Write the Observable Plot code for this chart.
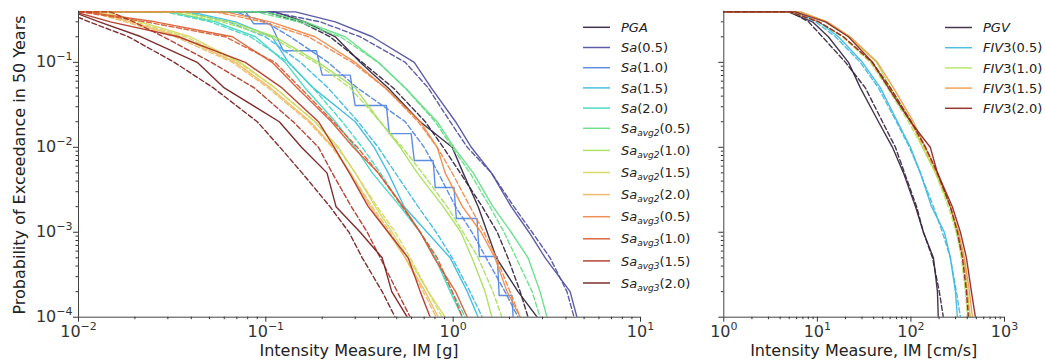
<!DOCTYPE html>
<html><head><meta charset="utf-8">
<script src="https://cdn.jsdelivr.net/npm/d3@7"></script>
<script src="https://cdn.jsdelivr.net/npm/@observablehq/plot@0.6"></script>
<style>
body{margin:0;background:#fff;}
#wrap{position:relative;width:1045px;height:363px;font-family:"DejaVu Sans",sans-serif;}
#wrap svg{position:absolute;top:0;overflow:visible;}
</style></head><body><div id="wrap"></div>
<script>
// ---------- data ----------
// exceedance probability levels at which IM values were read (same for every curve except Sa(1.0))
const pLevels = [0.393, 0.3, 0.2, 0.1, 0.05, 0.02, 0.01, 0.005, 0.002, 0.001, 0.0005, 0.0002, 0.0001];
const plateauP = 0.393;

// left panel (IM in g): empirical curve and dashed fit
const PGA        = [0.112, 0.162, 0.235, 0.319, 0.45, 0.667, 0.988, 1.13, 1.36, 1.52, 1.70, 2.22, 2.81];
const PGA_fit    = [0.0994, 0.153, 0.22, 0.327, 0.479, 0.71, 0.885, 1.09, 1.43, 1.72, 1.96, 2.28, 2.51];
const Sa05       = [0.144, 0.235, 0.370, 0.62, 0.764, 1.03, 1.25, 1.60, 2.04, 2.54, 3.10, 4.21, 4.58];
const Sa05_fit   = [0.106, 0.195, 0.319, 0.555, 0.736, 0.964, 1.19, 1.60, 2.11, 2.64, 3.29, 4.05, 4.42];
const Sa10_im    = [0.078, 0.086, 0.106, 0.124, 0.186, 0.200, 0.282, 0.300, 0.44, 0.456, 0.597, 0.62, 0.782, 0.802, 1.01, 1.04, 1.34, 1.38, 1.72, 1.76, 2.06, 2.09];
const Sa10_p     = [0.393, 0.285, 0.285, 0.137, 0.137, 0.0707, 0.0707, 0.031, 0.031, 0.0145, 0.0145, 0.00698, 0.00698, 0.00336, 0.00336, 0.00145, 0.00145, 0.000518, 0.000518, 0.00018, 0.00018, 0.0001];
const Sa10_fit   = [0.0688, 0.0994, 0.135, 0.215, 0.308, 0.555, 0.70, 0.832, 1.03, 1.26, 1.50, 1.89, 2.22];
const Sa15       = [0.0396, 0.0688, 0.108, 0.132, 0.179, 0.300, 0.379, 0.45, 0.548, 0.726, 0.964, 1.19, 1.36];
const Sa15_fit   = [0.0372, 0.0631, 0.0994, 0.153, 0.215, 0.311, 0.398, 0.491, 0.65, 0.812, 0.988, 1.23, 1.43];
const Sa20       = [0.031, 0.0538, 0.088, 0.127, 0.162, 0.235, 0.300, 0.370, 0.522, 0.667, 0.802, 0.964, 1.12];
const Sa20_fit   = [0.0291, 0.0506, 0.0827, 0.132, 0.179, 0.256, 0.327, 0.408, 0.535, 0.667, 0.802, 0.988, 1.16];
const avg2_05     = [0.0994, 0.162, 0.265, 0.398, 0.555, 0.822, 1.01, 1.28, 1.63, 2.04, 2.51, 2.91, 3.17];
const avg2_05_fit = [0.088, 0.149, 0.25, 0.398, 0.555, 0.802, 0.988, 1.23, 1.57, 1.87, 2.17, 2.64, 2.91];
const avg2_10     = [0.035, 0.0647, 0.112, 0.191, 0.300, 0.408, 0.522, 0.643, 0.885, 1.10, 1.26, 1.48, 1.61];
const avg2_10_fit = [0.031, 0.0586, 0.106, 0.183, 0.282, 0.408, 0.535, 0.684, 0.929, 1.13, 1.36, 1.63, 1.82];
const avg2_15     = [0.0139, 0.0214, 0.0396, 0.0731, 0.112, 0.183, 0.244, 0.300, 0.384, 0.473, 0.575, 0.736, 0.906];
const avg2_15_fit = [0.0131, 0.0201, 0.0372, 0.0713, 0.112, 0.183, 0.24, 0.300, 0.393, 0.491, 0.59, 0.736, 0.873];
const avg2_20     = [0.0123, 0.0189, 0.035, 0.0688, 0.106, 0.173, 0.229, 0.282, 0.361, 0.45, 0.555, 0.71, 0.832];
const avg2_20_fit = [0.0116, 0.0178, 0.0329, 0.0663, 0.103, 0.169, 0.226, 0.282, 0.370, 0.461, 0.555, 0.692, 0.812];
const avg3_05     = [0.0608, 0.106, 0.183, 0.300, 0.434, 0.667, 0.822, 0.906, 1.12, 1.41, 1.67, 1.94, 2.28];
const avg3_05_fit = [0.0538, 0.0958, 0.169, 0.289, 0.434, 0.65, 0.822, 0.988, 1.23, 1.46, 1.70, 2.01, 2.28];
const avg3_10     = [0.0109, 0.0257, 0.0663, 0.108, 0.147, 0.224, 0.293, 0.398, 0.541, 0.667, 0.792, 1.03, 1.19];
const avg3_10_fit = [0.0102, 0.0228, 0.0608, 0.112, 0.153, 0.229, 0.308, 0.398, 0.535, 0.667, 0.822, 0.988, 1.12];
const avg3_15     = [0.0096, 0.0148, 0.0341, 0.0777, 0.122, 0.191, 0.232, 0.279, 0.352, 0.45, 0.575, 0.667, 0.754];
const avg3_15_fit = [0.0148, 0.0197, 0.0284, 0.0512, 0.0868, 0.14, 0.191, 0.226, 0.286, 0.348, 0.408, 0.503, 0.59];
const avg3_20     = [0.0093, 0.0129, 0.0216, 0.043, 0.060, 0.118, 0.155, 0.212, 0.237, 0.319, 0.418, 0.47, 0.569];
const avg3_20_fit = [0.0085, 0.0114, 0.0185, 0.0325, 0.0525, 0.090, 0.119, 0.156, 0.22, 0.278, 0.327, 0.418, 0.49];

// right panel (IM in cm/s)
const PGV         = [4.91, 8.87, 13.1, 21.5, 28.8, 45, 63.5, 83.2, 112, 136, 174, 192, 196];
const PGV_fit     = [5.16, 8.04, 11.3, 20, 32.6, 49.6, 68.3, 85.3, 115, 136, 170, 201, 222];
const FIV3_05     = [5.83, 10.3, 16.8, 30.3, 47.2, 71.8, 98.8, 126, 166, 228, 264, 299, 314];
const FIV3_05_fit = [5.56, 9.55, 15.6, 28.8, 45, 70, 96.4, 126, 174, 217, 264, 306, 338];
const FIV3_10     = [6.6, 12.5, 21.5, 42.8, 60.4, 101, 133, 183, 264, 306, 364, 402, 433];
const FIV3_10_fit = [5.16, 10.3, 18.5, 36.9, 56.1, 94, 133, 183, 251, 306, 346, 382, 402];
const FIV3_15     = [6.6, 12.8, 22.5, 43.8, 65, 106, 143, 192, 264, 322, 373, 422, 454];
const FIV3_15_fit = [5.28, 10.5, 19.0, 37.8, 58.9, 98.8, 139, 187, 264, 322, 364, 402, 422];
const FIV3_20     = [5.83, 12.2, 21.5, 38.8, 57.5, 98.8, 161, 192, 277, 338, 392, 443, 489];
const FIV3_20_fit = [5.16, 10.3, 19.0, 38.8, 60.4, 101, 143, 192, 264, 314, 355, 392, 411];

const leftNames  = ["PGA","Sa(0.5)","Sa(1.0)","Sa(1.5)","Sa(2.0)","Sa_avg2(0.5)","Sa_avg2(1.0)","Sa_avg2(1.5)","Sa_avg2(2.0)","Sa_avg3(0.5)","Sa_avg3(1.0)","Sa_avg3(1.5)","Sa_avg3(2.0)"];
const rightNames = ["PGV","FIV3(0.5)","FIV3(1.0)","FIV3(1.5)","FIV3(2.0)"];
const leftColors  = ["#32233f","#4f4f9e","#4f84e0","#3cbadf","#3ed6c2","#62dd84","#a8e05c","#d2d862","#efb862","#ee8846","#d85a30","#b03424","#741c1c"];
const rightColors = ["#37253f","#3fb8e0","#b2e65a","#f09a48","#8c2622"];

const xTicksLeft  = [0.01, 0.1, 1, 10];
const xTicksRight = [1, 10, 100, 1000];
const yTicks      = [1e-4, 1e-3, 1e-2, 1e-1];

// ---------- build ----------
const leftSolid = [PGA, Sa05, null, Sa15, Sa20, avg2_05, avg2_10, avg2_15, avg2_20, avg3_05, avg3_10, avg3_15, avg3_20];
const leftFit   = [PGA_fit, Sa05_fit, Sa10_fit, Sa15_fit, Sa20_fit, avg2_05_fit, avg2_10_fit, avg2_15_fit, avg2_20_fit, avg3_05_fit, avg3_10_fit, avg3_15_fit, avg3_20_fit];
const rightSolid = [PGV, FIV3_05, FIV3_10, FIV3_15, FIV3_20];
const rightFit   = [PGV_fit, FIV3_05_fit, FIV3_10_fit, FIV3_15_fit, FIV3_20_fit];

function toRows(ims, ps) {
  return [{im: 1e-5, p: plateauP}].concat(ims.map((v, i) => ({im: v, p: ps[i]})));
}
function minorTicks(lo, hi) {
  const out = [];
  for (let d = lo; d < hi; d *= 10) for (let k = 2; k <= 9; k++) { const v = k * d; if (v < hi) out.push(v); }
  return out;
}
const yMinor = minorTicks(1e-4, 0.39);
const lw = 1.4, op = 0.92, dash = "5,2.6";
const fmt = d => "10^" + Math.round(Math.log10(d));

function lineMarks(solids, fits, colors, sa10) {
  const m = [];
  solids.forEach((s, i) => {
    const rows = s ? toRows(s, pLevels) : toRows(sa10[0], sa10[1]);
    m.push(Plot.line(rows, {x: "im", y: "p", stroke: colors[i], strokeWidth: lw, strokeOpacity: op, clip: true}));
    m.push(Plot.line(toRows(fits[i], pLevels), {x: "im", y: "p", stroke: colors[i], strokeWidth: lw, strokeOpacity: op, strokeDasharray: dash, clip: true}));
  });
  return m;
}

const common = {height: 363, marginTop: 10.7, marginBottom: 46.3,
  style: {fontFamily: "DejaVu Sans", fontSize: "16px", color: "#333", background: "transparent"}};

const left = Plot.plot({...common, width: 660, marginLeft: 78, marginRight: 20,
  x: {type: "log", domain: [0.01, 10]},
  y: {type: "log", domain: [1e-4, 0.4]},
  marks: [
    ...lineMarks(leftSolid, leftFit, leftColors, [Sa10_im, Sa10_p]),
    Plot.ruleX([0.01], {stroke: "#444"}),
    Plot.ruleY([1e-4], {stroke: "#444"}),
    Plot.axisX(xTicksLeft, {tickSize: 5, tickPadding: 3, tickFormat: fmt, label: null, fontSize: 16}),
    Plot.axisX(minorTicks(0.01, 10), {tickSize: 2.5, tickFormat: () => "", label: null}),
    Plot.axisY(yTicks, {tickSize: 5, tickPadding: 1, tickFormat: fmt, label: null, fontSize: 16}),
    Plot.axisY(yMinor, {tickSize: 2.5, tickFormat: () => "", label: null})
  ]});

const right = Plot.plot({...common, width: 385, marginLeft: 63.3, marginRight: 41,
  x: {type: "log", domain: [1, 1000]},
  y: {type: "log", domain: [1e-4, 0.4]},
  marks: [
    ...lineMarks(rightSolid, rightFit, rightColors, null),
    Plot.ruleX([1], {stroke: "#444"}),
    Plot.ruleY([1e-4], {stroke: "#444"}),
    Plot.axisX(xTicksRight, {tickSize: 5, tickPadding: 3, tickFormat: fmt, label: null, fontSize: 16}),
    Plot.axisX(minorTicks(1, 1000), {tickSize: 2.5, tickFormat: () => "", label: null}),
    Plot.axisY(yTicks, {tickSize: 5, tickFormat: () => "", label: null}),
    Plot.axisY(yMinor, {tickSize: 2.5, tickFormat: () => "", label: null})
  ]});

const wrap = document.getElementById("wrap");
left.style.left = "0px";
right.style.left = "660px";
wrap.appendChild(left);
wrap.appendChild(right);

// superscript tick labels
d3.selectAll("#wrap text").each(function () {
  const s = this.textContent;
  const m = /^10\^(-?\d+)$/.exec(s);
  if (!m) return;
  const t = d3.select(this);
  t.text("");
  t.append("tspan").text("10");
  t.append("tspan").attr("dy", "-7").attr("font-size", "11px").text(m[1].replace("-", "\u2212"));
});

// axis titles
function addText(svg, x, y, txt, rot) {
  d3.select(svg).append("text").attr("transform", `translate(${x},${y})` + (rot ? " rotate(-90)" : ""))
    .attr("text-anchor", "middle").attr("font-size", 16).attr("fill", "#222")
    .attr("font-family", "DejaVu Sans").text(txt);
}
addText(left, 25, 165, "Probability of Exceedance in 50 Years", true);
addText(left, 359, 356, "Intensity Measure, IM [g]", false);
addText(right, 203.7, 356, "Intensity Measure, IM [cm/s]", false);

// legends
const overlay = d3.select(wrap).append("svg").attr("width", 1045).attr("height", 363)
  .style("left", "0px").style("pointer-events", "none");
function legend(x0, y0, names, colors) {
  let y = y0, prevSub = false;
  names.forEach((n, i) => {
    const m = /^([A-Za-z]+)(?:_([A-Za-z0-9]+))?(.*)$/.exec(n);
    const sub = !!m[2];
    if (i > 0) y += prevSub ? 22.1 : 20.2;
    prevSub = sub;
    overlay.append("line").attr("x1", x0).attr("x2", x0 + 27).attr("y1", y).attr("y2", y)
      .attr("stroke", colors[i]).attr("stroke-width", 1.5).attr("stroke-opacity", op);
    const t = overlay.append("text").attr("x", x0 + 38).attr("y", y + 4.6)
      .attr("font-size", 13).attr("fill", "#222").attr("font-family", "DejaVu Sans");
    t.append("tspan").attr("font-style", "italic").text(m[1]);
    if (sub) {
      t.append("tspan").attr("font-style", "italic").attr("font-size", 9).attr("dy", 3).text(m[2]);
      t.append("tspan").attr("dy", -3).text(m[3]);
    } else {
      t.append("tspan").text(m[3]);
    }
  });
}
legend(583, 27.3, leftNames, leftColors);
legend(945, 27.5, rightNames, rightColors);
</script></body></html>
